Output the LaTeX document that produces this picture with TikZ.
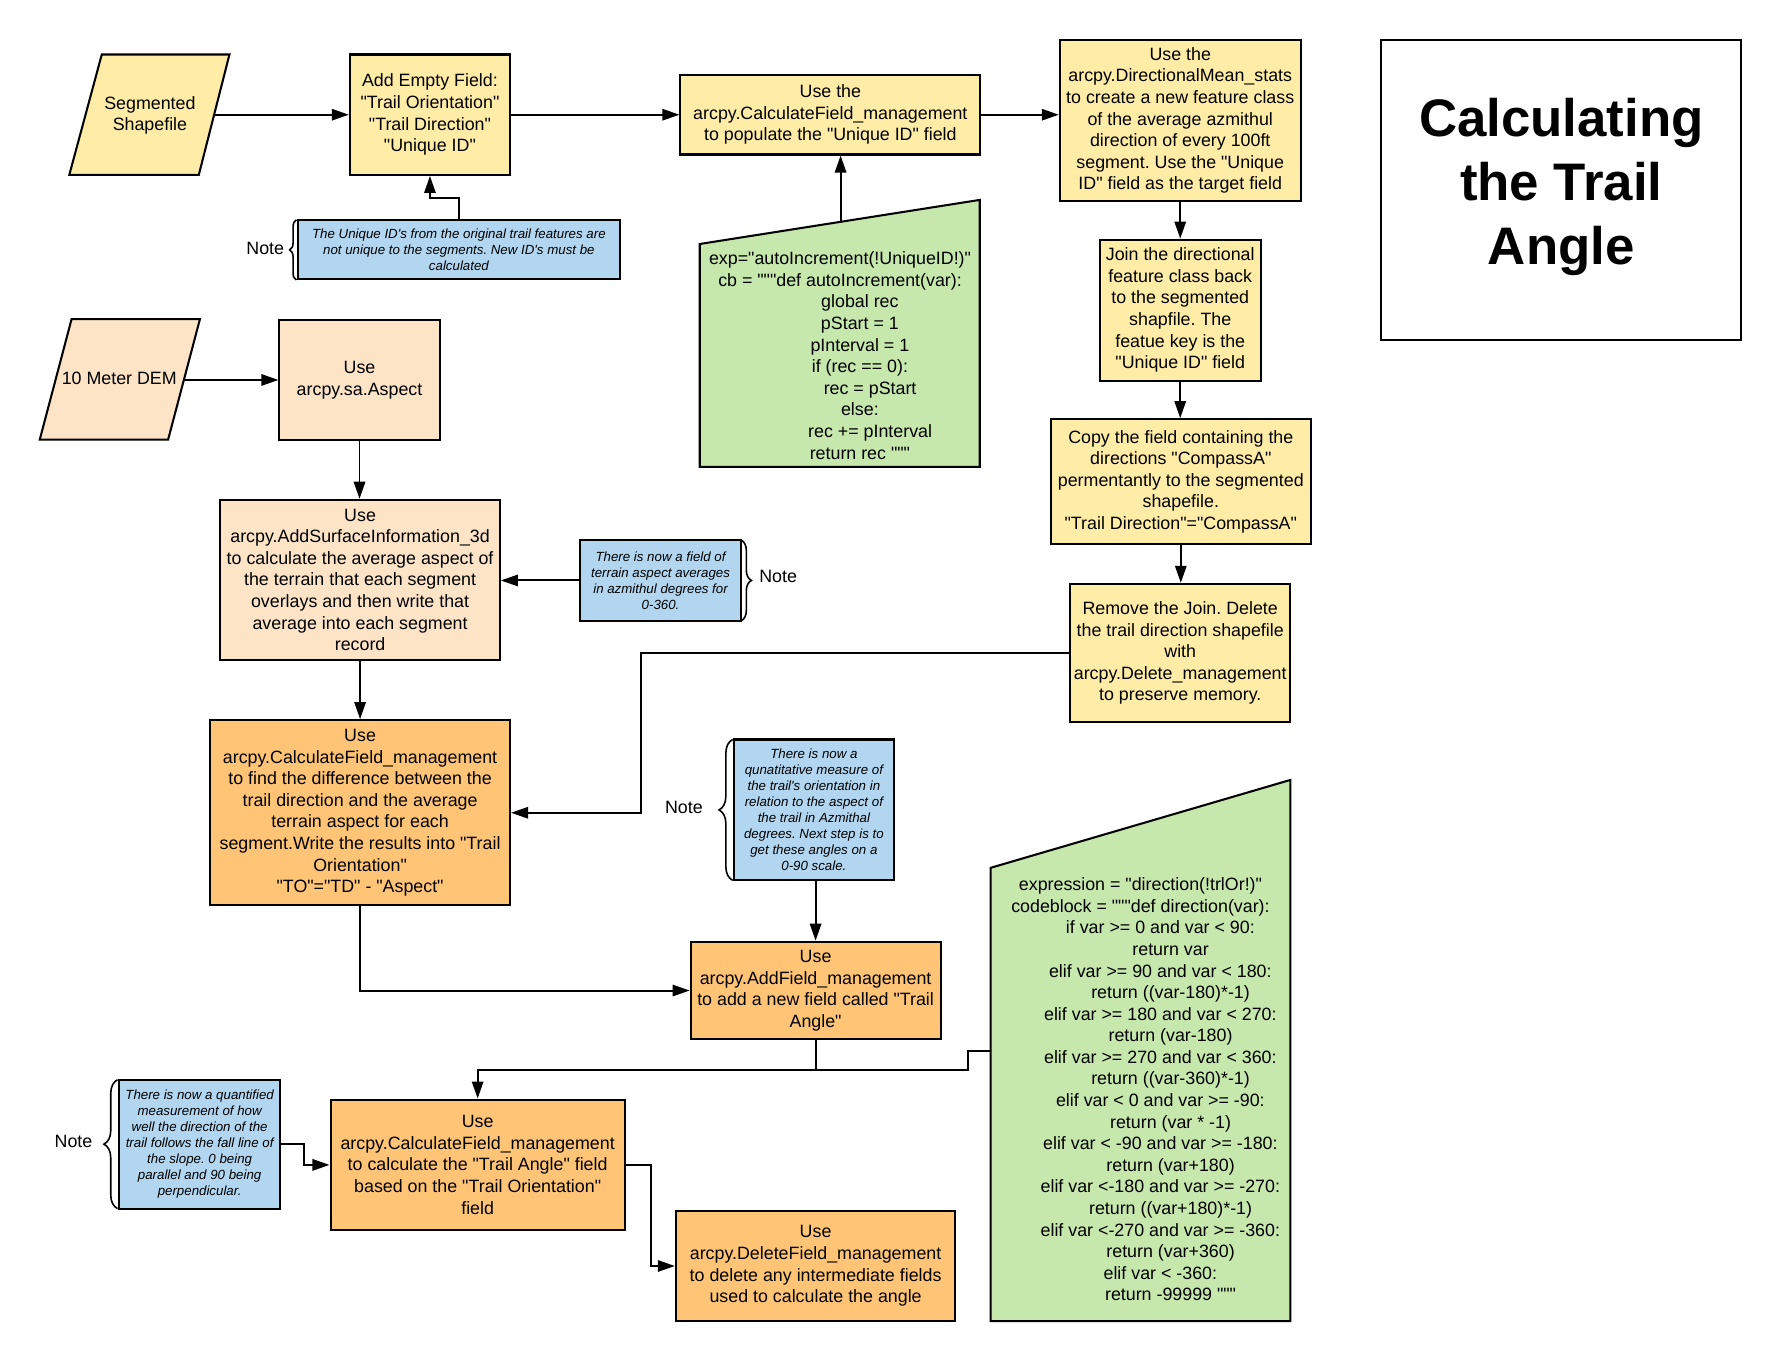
\documentclass[tikz,border=0pt]{standalone}
\usepackage{fontspec}
\setmainfont{Liberation Sans}[Ligatures=TeXOff]
\usetikzlibrary{arrows.meta,decorations.pathreplacing}
\definecolor{yel}{RGB}{255,236,166}
\definecolor{pch}{RGB}{253,228,199}
\definecolor{org}{RGB}{255,196,118}
\definecolor{blu}{RGB}{178,214,240}
\definecolor{grn}{RGB}{199,232,172}
\newcommand\boxfont{\fontsize{15.7}{19}\selectfont}
\newcommand\notefont{\fontsize{11.7}{14.1}\selectfont\itshape}
\newcommand\titlefont{\fontsize{46.5}{56}\selectfont\bfseries}
\newcommand\indA{\hspace*{35pt}}
\newcommand\indB{\hspace*{53pt}}
\frenchspacing
\begin{document}
\begin{tikzpicture}[x=1pt,y=-1pt,
  box/.style={draw, line width=1.8pt, align=center, inner sep=0pt, font=\boxfont},
  notebox/.style={draw, line width=1.8pt, fill=blu, align=center, inner sep=0pt, font=\notefont},
  conn/.style={line width=1.7pt, -{Triangle[length=15pt,width=10pt]}},
  link/.style={line width=1.7pt},
  outline/.style={draw, line width=1.8pt, line join=miter},
  brc/.style={line width=1.4pt, decorate, decoration={brace, amplitude=#1}},
  lbl/.style={font=\boxfont, inner sep=0pt},
  txt/.style={font=\boxfont, inner sep=0pt, align=center}
]
\path[use as bounding box] (0,0) rectangle (1567,1198);

% ---------- parallelograms (inputs)
\path[outline, fill=yel] (89.6,48) -- (202,48) -- (175,154) -- (61,154) -- cycle;
\node[txt] (seg) at (132,101.5) {Segmented\\Shapefile};
\coordinate (segR) at (188.5,101);

\path[outline, fill=pch] (63,281) -- (176,281) -- (148,387) -- (35,387) -- cycle;
\node[txt] (dem) at (105,333) {10 Meter DEM};
\coordinate (demR) at (161.9,334.5);

% ---------- top row
\node[box, fill=yel, minimum width=141pt, minimum height=106pt] (addEmpty) at (378.5,101)
  {Add Empty Field:\\"Trail Orientation"\\"Trail Direction"\\"Unique ID"};
\node[box, fill=yel, minimum width=264pt, minimum height=70pt] (calcUID) at (731,101)
  {Use the\\arcpy.CalculateField\_management\\to populate the "Unique ID" field};
\node[box, fill=yel, minimum width=212pt, minimum height=142pt] (dirMean) at (1039,106)
  {Use the\\arcpy.DirectionalMean\_stats\\to create a new feature class\\of the average azmithul\\direction of every 100ft\\segment. Use the "Unique\\ID" field as the target field};
\node[draw, line width=1.8pt, inner sep=0pt,
      minimum width=317pt, minimum height=264pt] (title) at (1374.5,167) {};
\node[txt, font=\titlefont] (titleText) at (1374.5,164.5) {Calculating\\the Trail\\Angle};

% ---------- right column
\node[box, fill=yel, minimum width=142pt, minimum height=124pt] (join) at (1039,273)
  {Join the directional\\feature class back\\to the segmented\\shapfile. The\\featue key is the\\"Unique ID" field};
\node[box, fill=yel, minimum width=229pt, minimum height=110pt] (copy) at (1039.5,424)
  {Copy the field containing the\\directions "CompassA"\\permentantly to the segmented\\shapefile.\\"Trail Direction"="CompassA"};
\node[box, fill=yel, minimum width=194pt, minimum height=122pt] (remove) at (1039,575)
  {Remove the Join. Delete\\the trail direction shapefile\\with\\arcpy.Delete\_management\\to preserve memory.};

% ---------- left column
\node[box, fill=pch, minimum width=141pt, minimum height=105pt] (aspect) at (316.5,334.5)
  {Use\\arcpy.sa.Aspect};
\node[box, fill=pch, minimum width=246pt, minimum height=141pt] (addSurf) at (317,510.5)
  {Use\\arcpy.AddSurfaceInformation\_3d\\to calculate the average aspect of\\the terrain that each segment\\overlays and then write that\\average into each segment\\record};
\node[box, fill=org, minimum width=264pt, minimum height=163pt] (calcTO) at (317,715.5)
  {Use\\arcpy.CalculateField\_management\\to find the difference between the\\trail direction and the average\\terrain aspect for each\\segment.Write the results into "Trail\\Orientation"\\"TO"="TD" - "Aspect"};
\node[box, fill=org, minimum width=220pt, minimum height=86pt] (addField) at (718,872)
  {Use\\arcpy.AddField\_management\\to add a new field called "Trail\\Angle"};
\node[box, fill=org, minimum width=259pt, minimum height=115pt] (calcTA) at (420.5,1025.5)
  {Use\\arcpy.CalculateField\_management\\to calculate the "Trail Angle" field\\based on the "Trail Orientation"\\field};
\node[box, fill=org, minimum width=246pt, minimum height=97pt] (delField) at (718,1114.5)
  {Use\\arcpy.DeleteField\_management\\to delete any intermediate fields\\used to calculate the angle};

% ---------- code blocks
\path[outline, fill=grn] (616,214.8) -- (862.5,176) -- (862.5,411) -- (616,411) -- cycle;
\node[txt] (code1) at (739.5,313)
  {exp="autoIncrement(!UniqueID!)"\\
   cb = """def autoIncrement(var):\\
   \indA global rec\\
   \indA pStart = 1\\
   \indA pInterval = 1\\
   \indA if (rec == 0):\\
   \indB rec = pStart\\
   \indA else:\\
   \indB rec += pInterval\\
   \indA return rec """};
\coordinate (g1top) at (740,195.3);

\path[outline, fill=grn] (872,764) -- (1136,686.6) -- (1136,1163) -- (872,1163) -- cycle;
\node[txt] (code2) at (1004,959)
  {expression = "direction(!trlOr!)"\\
   codeblock = """def direction(var):\\
   \indA if var >= 0 and var < 90:\\
   \indB return var\\
   \indA elif var >= 90 and var < 180:\\
   \indB return ((var-180)*-1)\\
   \indA elif var >= 180 and var < 270:\\
   \indB return (var-180)\\
   \indA elif var >= 270 and var < 360:\\
   \indB return ((var-360)*-1)\\
   \indA elif var < 0 and var >= -90:\\
   \indB return (var * -1)\\
   \indA elif var < -90 and var >= -180:\\
   \indB return (var+180)\\
   \indA elif var <-180 and var >= -270:\\
   \indB return ((var+180)*-1)\\
   \indA elif var <-270 and var >= -360:\\
   \indB return (var+360)\\
   \indA elif var < -360:\\
   \indB return -99999 """};
\coordinate (g2L) at (872,925);

% ---------- notes
\node[notebox, minimum width=284pt, minimum height=52pt] (n1) at (404,220)
  {The Unique ID's from the original trail features are\\not unique to the segments. New ID's must be\\calculated};
\node[notebox, minimum width=141pt, minimum height=71pt] (n2) at (581.5,511)
  {There is now a field of\\terrain aspect averages\\in azmithul degrees for\\0-360.};
\node[notebox, minimum width=141pt, minimum height=124pt] (n3) at (716.5,713)
  {There is now a\\qunatitative measure of\\the trail's orientation in\\relation to the aspect of\\the trail in Azmithal\\degrees. Next step is to\\get these angles on a\\0-90 scale.};
\node[notebox, minimum width=142pt, minimum height=113.5pt] (n4) at (175.75,1007.25)
  {There is now a quantified\\measurement of how\\well the direction of the\\trail follows the fall line of\\the slope. 0 being\\parallel and 90 being\\perpendicular.};

\draw[brc=6] (261,246.5) -- (261,193.5);
\draw[brc=9] (652.5,475.5) -- (652.5,546.5);
\draw[brc=12] (645,775) -- (645,651);
\draw[brc=12] (103.5,1064) -- (103.5,950.5);

\node[lbl] (nl1) at (233.5,218.6) {Note};
\node[lbl] (nl2) at (685,507.6) {Note};
\node[lbl] (nl3) at (602,711) {Note};
\node[lbl] (nl4) at (64.7,1005) {Note};

% ---------- connectors
\coordinate (bendN1) at (404,174);
\coordinate (bendR) at (564,575);
\coordinate (j1) at (718,942);
\coordinate (stepB) at (852,942);
\coordinate (b4) at (268,1007.25);
\coordinate (b5) at (573,1025.5);

\draw[conn] (segR) -- (addEmpty.west);
\draw[conn] (addEmpty.east) -- (calcUID.west);
\draw[conn] (calcUID.east) -- (calcUID.east -| dirMean.west);
\draw[conn] (dirMean.south) -- (join.north);
\draw[conn] (join.south) -- (join.south |- copy.north);
\draw[conn] (copy.south) -- (copy.south |- remove.north);
\draw[conn] (remove.west) -- (bendR) |- (calcTO.east);
\draw[conn] (n1.north) -- (bendN1) -| (addEmpty.south);
\draw[conn] (g1top) -- (g1top |- calcUID.south);
\draw[conn] (demR) -- (demR -| aspect.west);
\draw[conn] (aspect.south) -- (aspect.south |- addSurf.north);
\draw[conn] (n2.west) -- (n2.west -| addSurf.east);
\draw[conn] (addSurf.south) -- (addSurf.south |- calcTO.north);
\draw[conn] (calcTO.south) |- (addField.west);
\draw[conn] (n3.south -| addField.north) -- (addField.north);
\draw[conn] (addField.south) -- (j1) -| (calcTA.north);
\draw[link] (g2L) -| (stepB) -- (j1);
\draw[conn] (n4.east) -- (b4) |- (calcTA.west);
\draw[conn] (calcTA.east) -- (b5) |- (delField.west);
\end{tikzpicture}
\end{document}
